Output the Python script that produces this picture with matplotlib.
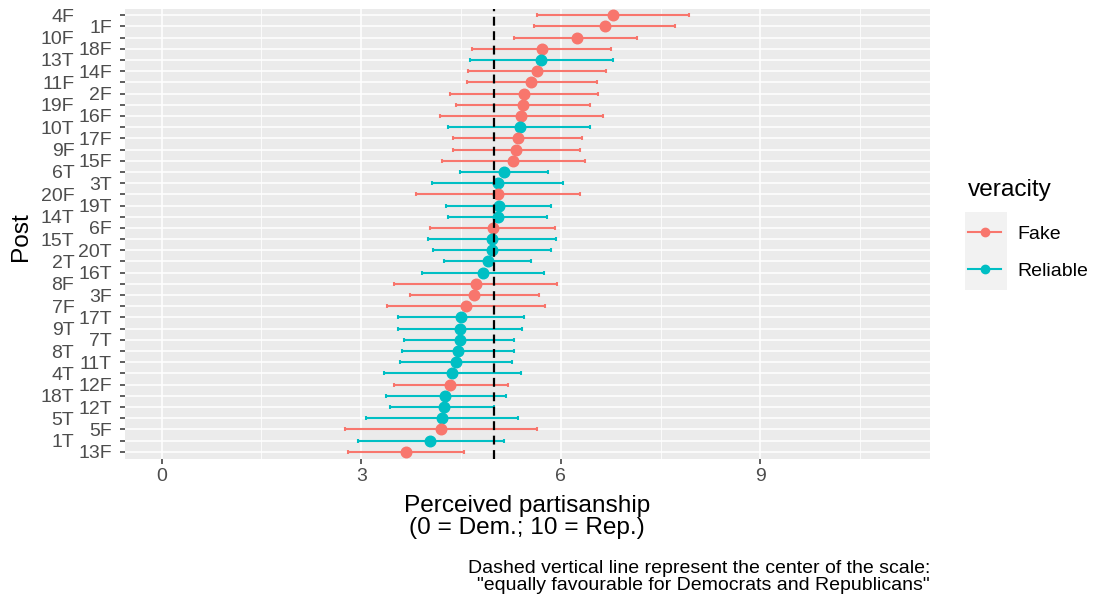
import numpy as np
import matplotlib
matplotlib.use('Agg')
import matplotlib.pyplot as plt
from matplotlib.lines import Line2D

plt.rcParams['font.family'] = ['Liberation Sans', 'DejaVu Sans']

# posts ordered top to bottom, with mean and interval bounds
posts = ['4F', '1F', '10F', '18F', '13T', '14F', '11F', '2F', '19F', '16F',
         '10T', '17F', '9F', '15F', '6T', '3T', '20F', '19T', '14T', '6F',
         '15T', '20T', '2T', '16T', '8F', '3F', '7F', '17T', '9T', '7T',
         '8T', '11T', '4T', '12F', '18T', '12T', '5T', '5F', '1T', '13F']
mean = [6.79, 6.66, 6.24, 5.72, 5.70, 5.65, 5.56, 5.45, 5.43, 5.40,
        5.38, 5.35, 5.33, 5.28, 5.15, 5.06, 5.06, 5.07, 5.06, 4.98,
        4.97, 4.96, 4.90, 4.83, 4.73, 4.70, 4.58, 4.50, 4.49, 4.48,
        4.46, 4.43, 4.36, 4.34, 4.26, 4.24, 4.22, 4.20, 4.04, 3.67]
lower = [5.64, 5.60, 5.30, 4.67, 4.63, 4.61, 4.59, 4.34, 4.43, 4.18,
         4.30, 4.38, 4.38, 4.22, 4.49, 4.07, 3.83, 4.27, 4.31, 4.03,
         4.01, 4.08, 4.25, 3.91, 3.50, 3.74, 3.39, 3.56, 3.55, 3.65,
         3.62, 3.59, 3.34, 3.49, 3.37, 3.44, 3.07, 2.75, 2.95, 2.80]
upper = [7.93, 7.72, 7.15, 6.75, 6.78, 6.68, 6.55, 6.56, 6.44, 6.63,
         6.44, 6.32, 6.29, 6.36, 5.81, 6.04, 6.29, 5.85, 5.79, 5.92,
         5.93, 5.86, 5.56, 5.75, 5.95, 5.67, 5.76, 5.45, 5.41, 5.30,
         5.29, 5.27, 5.40, 5.21, 5.18, 5.00, 5.35, 5.65, 5.14, 4.55]

Colors = {'F': '#F8766D', 'T': '#00BFC4'}
Grey_text = '#4D4D4D'


def plotPartisanship():
    fig = plt.figure(figsize=(10.95, 6.01), dpi=100)
    ax = fig.add_axes([125 / 1095, 1 - 458.5 / 601, 805 / 1095, 450 / 601])
    ax.set_facecolor('#EBEBEB')
    for s in ax.spines.values():
        s.set_visible(False)

    n = len(posts)
    ypos = np.arange(n, 0, -1)
    for i, p in enumerate(posts):
        c = Colors[p[-1]]
        ax.errorbar(mean[i], ypos[i],
                    xerr=[[mean[i] - lower[i]], [upper[i] - mean[i]]],
                    fmt='o', color=c, ms=7.6, elinewidth=1.5,
                    capsize=1.6, capthick=1.5, zorder=3)
    ax.axvline(5, color='black', lw=1.6, ls=(0, (4, 2.5)), zorder=4)

    ax.set_xlim(-0.55, 11.55)
    ax.set_ylim(0.4, n + 0.6)
    ax.set_xticks([0, 3, 6, 9])
    ax.set_xticks([1.5, 4.5, 7.5, 10.5], minor=True)
    ax.tick_params(axis='x', which='minor', length=0)
    ax.tick_params(axis='x', which='major', length=3.5, width=1.1,
                   color='#333333', labelsize=14, labelcolor=Grey_text, pad=3)

    # staggered post labels: outer column on major ticks, inner on minor
    ax.set_yticks(ypos[0::2])
    ax.set_yticklabels(posts[0::2])
    ax.set_yticks(ypos[1::2], minor=True)
    ax.set_yticklabels(posts[1::2], minor=True)
    ax.tick_params(axis='y', which='major', length=3.5, width=1.1,
                   color='#333333', labelsize=14, labelcolor=Grey_text, pad=33)
    ax.tick_params(axis='y', which='minor', length=3.5, width=1.1,
                   color='#333333', labelsize=14, labelcolor=Grey_text, pad=6)

    ax.yaxis.grid(True, which='both', color='white', lw=1.1)
    ax.xaxis.grid(True, which='major', color='white', lw=1.1)
    ax.xaxis.grid(True, which='minor', color='white', lw=0.55)
    ax.set_axisbelow(True)

    fig.text(21 / 1095, 1 - 237 / 601, 'Post', rotation=90, ha='center',
             va='center', fontsize=17.6)
    fig.text(527 / 1095, 1 - 517 / 601,
             'Perceived partisanship\n(0 = Dem.; 10 = Rep.)',
             ha='center', va='center', multialignment='center',
             fontsize=17.6, linespacing=0.95)
    fig.text(930 / 1095, 1 - 577 / 601,
             'Dashed vertical line represent the center of the scale:\n'
             '"equally favourable for Democrats and Republicans"',
             ha='right', va='center', multialignment='right',
             fontsize=14, linespacing=1.05)

    # legend key background
    fig.patches.append(plt.Rectangle((965 / 1095, 1 - 290 / 601), 42 / 1095,
                                     78 / 601, transform=fig.transFigure,
                                     facecolor='#F2F2F2', edgecolor='none',
                                     zorder=0))
    handles = [Line2D([], [], color=Colors['F'], marker='o', ms=6, lw=1.5),
               Line2D([], [], color=Colors['T'], marker='o', ms=6, lw=1.5)]
    leg = fig.legend(handles, ['Fake', 'Reliable'], title='veracity',
                     loc='upper left', bbox_to_anchor=(968 / 1095, 1 - 179 / 601),
                     frameon=False, fontsize=14, title_fontsize=17.6,
                     handlelength=1.7, handletextpad=0.85, labelspacing=1.0,
                     borderaxespad=0, borderpad=0, alignment='left')
    leg._legend_box.align = 'left'
    leg._legend_box.sep = 17.7
    fig.savefig('out.png', dpi=100)


def main():
    plotPartisanship()


if __name__ == '__main__':
    main()
